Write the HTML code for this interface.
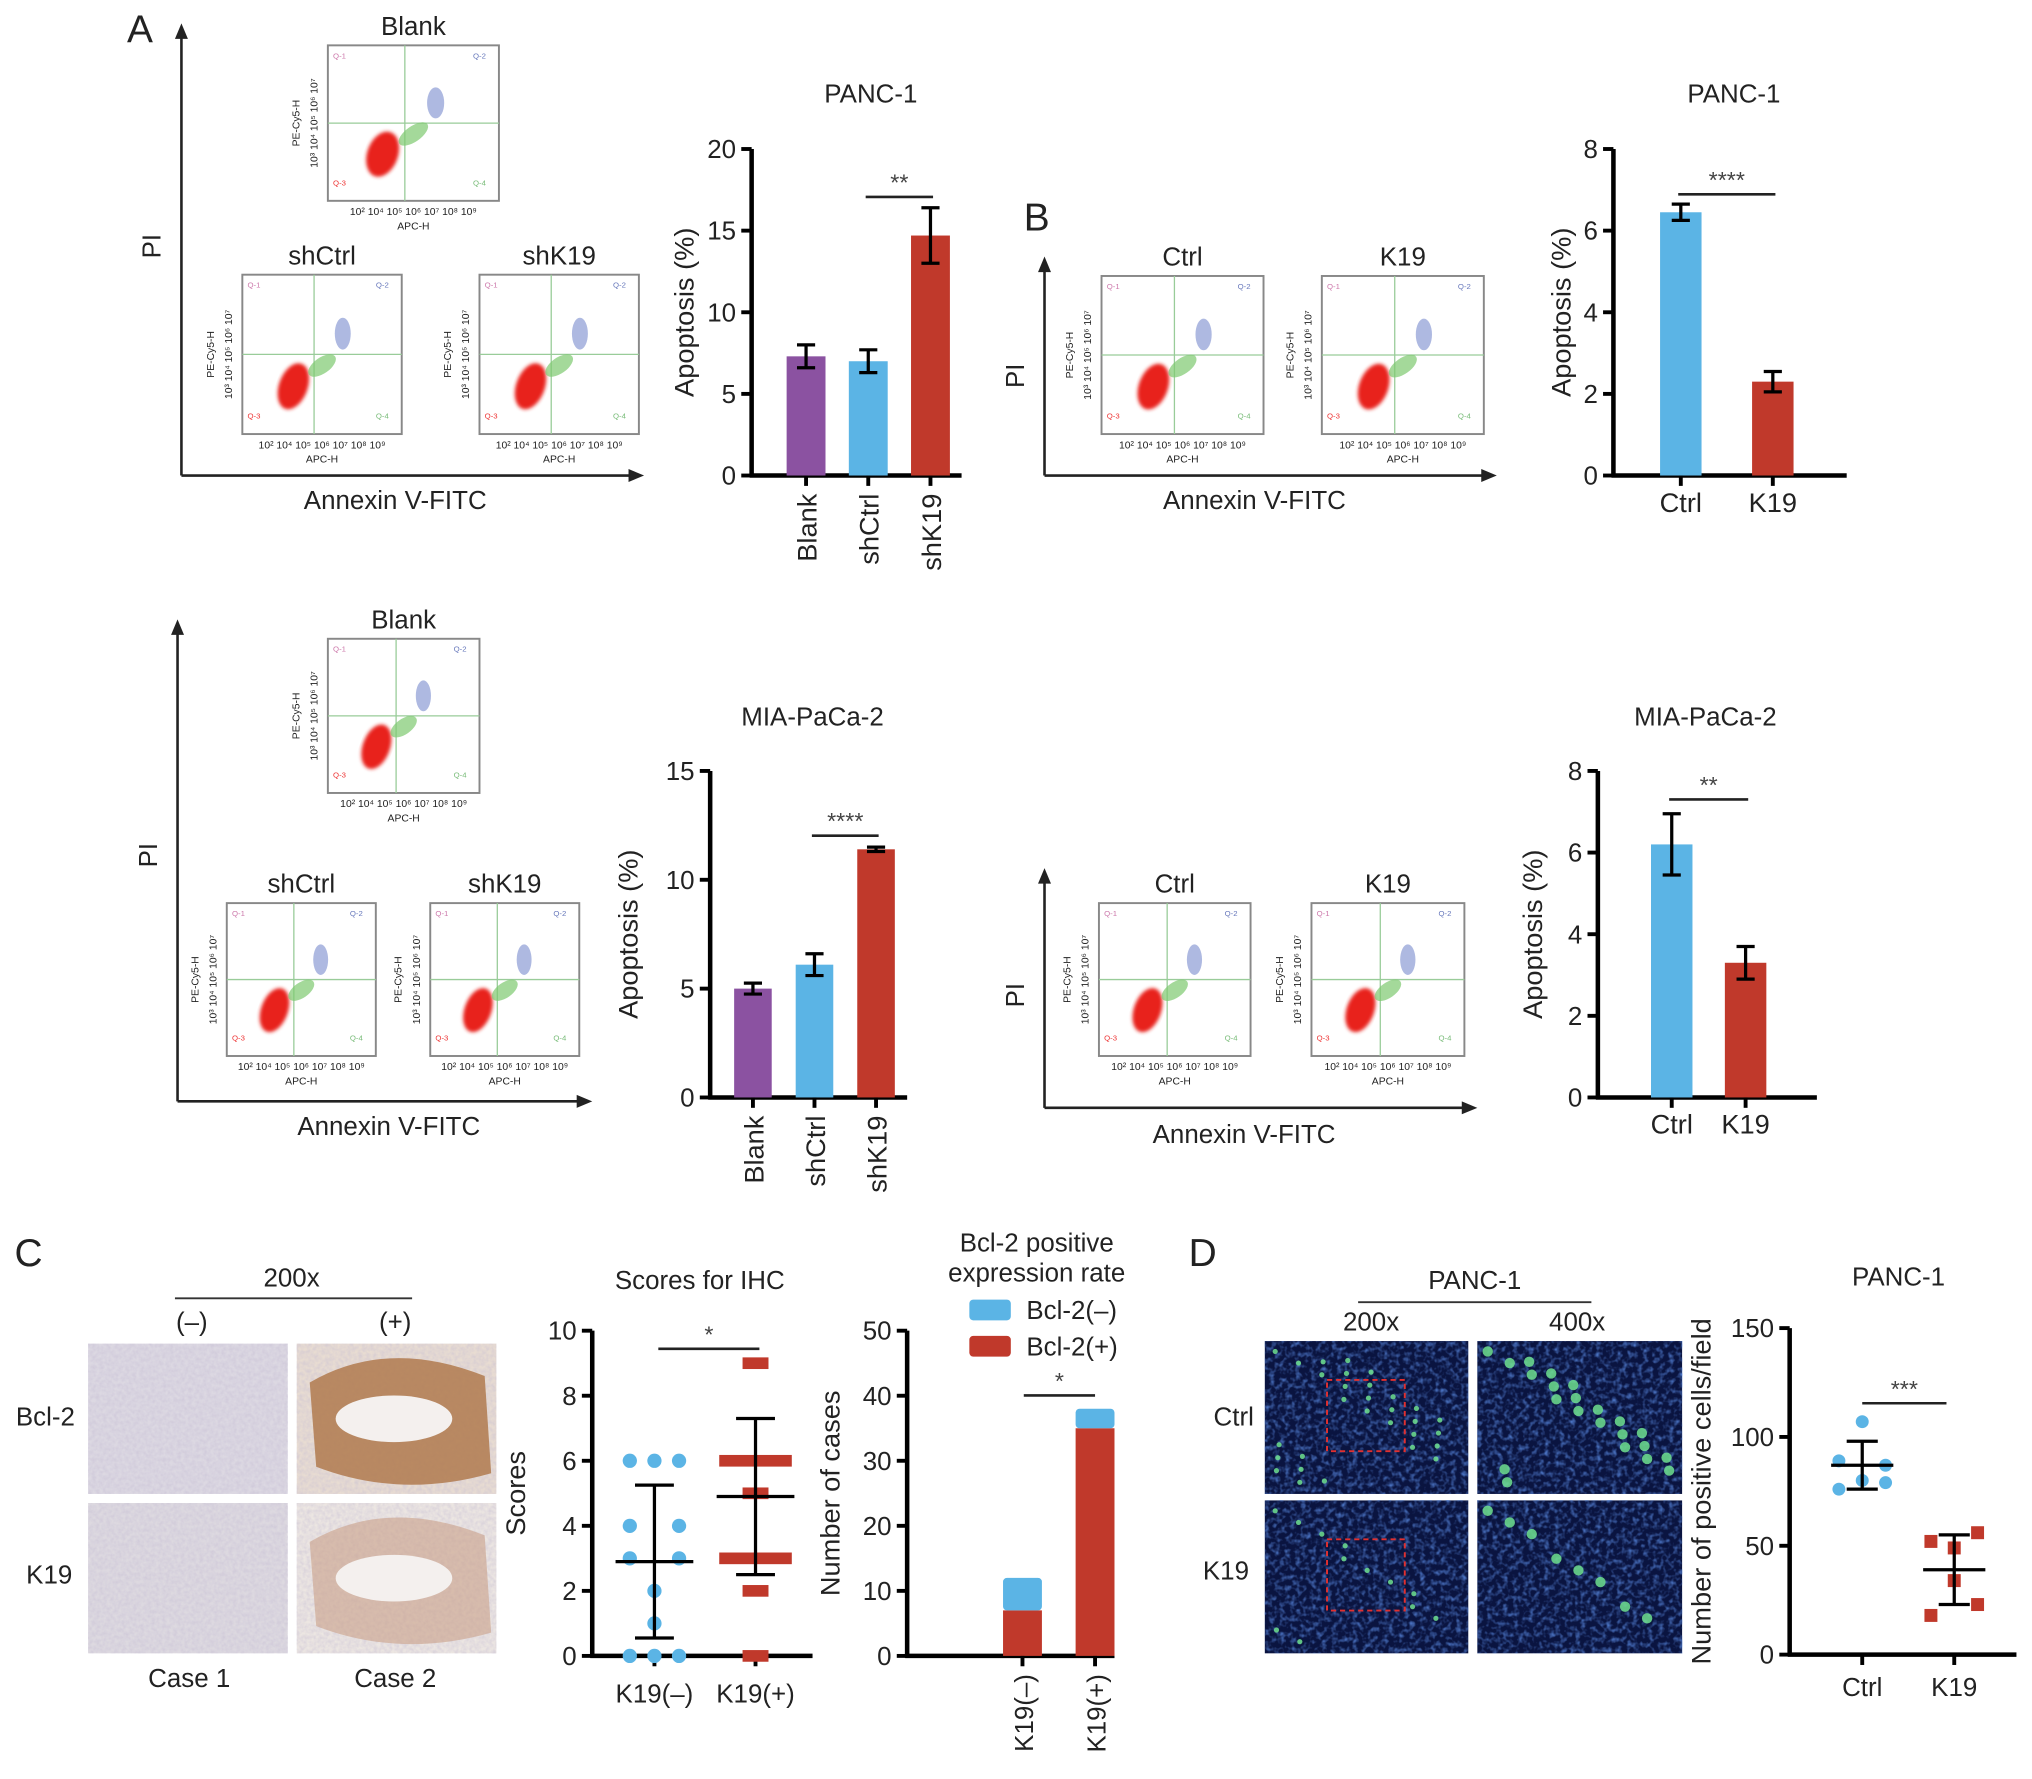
<!DOCTYPE html>
<html><head><meta charset="utf-8"><style>
html,body{margin:0;padding:0;background:#fff}
svg{display:block;font-family:"Liberation Sans",Arial,sans-serif}
</style></head><body>
<svg id="fig" width="2032" height="1779" viewBox="0 0 1568 1373" preserveAspectRatio="none" xmlns="http://www.w3.org/2000/svg">
<defs>
<filter id="ihcNoise" x="0" y="0" width="100%" height="100%"><feTurbulence type="fractalNoise" baseFrequency="0.35" numOctaves="2" seed="3"/><feColorMatrix type="matrix" values="0 0 0 0 0.55  0 0 0 0 0.5  0 0 0 0 0.65  0 0 0 -1.2 0.9"/></filter>
<filter id="flNoise" x="0" y="0" width="100%" height="100%"><feTurbulence type="fractalNoise" baseFrequency="0.25" numOctaves="2" seed="7"/><feColorMatrix type="matrix" values="0 0 0 0 0.1  0 0 0 0 0.25  0 0 0 0 0.75  0 0 0 -1.8 1.0"/></filter>
<filter id="blur1"><feGaussianBlur stdDeviation="1.5"/></filter>
</defs>
<g id="root"></g>
</svg>
<script>
// ---- data arrays ----
const panc1ShCats = ["Blank","shCtrl","shK19"];
const panc1ShVals = [7.3, 7.0, 14.7];
const panc1ShErrs = [0.7, 0.7, 1.7];
const panc1OeCats = ["Ctrl","K19"];
const panc1OeVals = [6.45, 2.3];
const panc1OeErrs = [0.2, 0.25];
const miaShCats = ["Blank","shCtrl","shK19"];
const miaShVals = [5.0, 6.1, 11.4];
const miaShErrs = [0.25, 0.5, 0.1];
const miaOeCats = ["Ctrl","K19"];
const miaOeVals = [6.2, 3.3];
const miaOeErrs = [0.75, 0.4];
const ticks20 = [0,5,10,15,20];
const ticks8 = [0,2,4,6,8];
const ticks15 = [0,5,10,15];
const ticks10 = [0,2,4,6,8,10];
const ticks50 = [0,10,20,30,40,50];
const ticks150 = [0,50,100,150];
const scoreCats = ["K19(–)","K19(+)"];
const scoresNeg = [6,6,6,4,4,3,3,2,1,0,0,0];
const scoresPos = [9,6,6,6,5,3,3,3,2,0];
const scoreMean = [2.9, 4.9];
const scoreSD = [2.35, 2.4];
const bclCats = ["K19(–)","K19(+)"];
const bclPos = [7, 35];
const bclNeg = [5, 3];
const dCats = ["Ctrl","K19"];
const dCtrl = [107,89,87,80,79,76];
const dK19 = [56,52,49,34,23,18];
const dMean = [87, 39];
const dSD = [11, 16];

const PURPLE="#8b52a1", BLUE="#5bb4e5", RED="#c0392b";
const NS="http://www.w3.org/2000/svg";
const root=document.getElementById('root');
function el(tag,attrs,parent){const e=document.createElementNS(NS,tag);for(const k in attrs)e.setAttribute(k,attrs[k]);(parent||root).appendChild(e);return e;}
function txt(x,y,s,size,opts){opts=opts||{};const t=el('text',{x:x,y:y,'font-size':size,'text-anchor':opts.anchor||'middle',fill:opts.fill||'#222'},opts.parent);if(opts.rot!==undefined)t.setAttribute('transform','rotate('+opts.rot+' '+x+' '+y+')');t.textContent=s;return t;}
function line(x1,y1,x2,y2,w,parent,col){return el('line',{x1:x1,y1:y1,x2:x2,y2:y2,stroke:col||'#000','stroke-width':w||3},parent);}

function axes(g,ax,yTop,yBot,xEnd,max,ticks,ylabel,ylx){
  const ys=v=>yBot-(v/max)*(yBot-yTop);
  line(ax,yTop,ax,yBot+1.5,3.5,g);
  line(ax-1.5,yBot,xEnd,yBot,3.5,g);
  ticks.forEach(t=>{line(ax-8,ys(t),ax,ys(t),3,g);txt(ax-12,ys(t)+7,String(t),20,{anchor:'end',parent:g});});
  txt(ylx,(yTop+yBot)/2,ylabel,21,{rot:-90,parent:g});
  return ys;
}
function sig(g,x1,x2,y,stars){line(x1,y,x2,y,2,g,'#222');txt((x1+x2)/2,y-5,stars,18,{parent:g,fill:'#444'});}

function barChart(name,o){
  const g=el('g',{});
  
  
  const ys=axes(g,o.ax,o.yTop,o.yBot,o.xEnd,o.max,o.ticks,'Apoptosis (%)',o.ylx);
  txt(o.titleX,o.titleY,o.title,20,{parent:g});
  o.cats.forEach((c,i)=>{
    const cx=o.ax+o.pad+i*o.step;
    const b=el('rect',{x:cx-o.bw/2,y:ys(o.vals[i]),width:o.bw,height:o.yBot-ys(o.vals[i]),fill:o.colors[i]},g);
    
    
    const top=ys(o.vals[i]+o.errs[i]),bot=ys(o.vals[i]-o.errs[i]);
    line(cx,top,cx,bot,2.5,g);line(cx-7,top,cx+7,top,2.5,g);line(cx-7,bot,cx+7,bot,2.5,g);
    line(cx,o.yBot,cx,o.yBot+8,3,g);
    if(o.rotLabels) txt(cx+8,o.yBot+14,c,21,{anchor:'end',rot:-90,parent:g});
    else txt(cx,o.yBot+28,c,21,{parent:g});
  });
  const a=o.ax+o.pad+o.sig[0]*o.step, b2=o.ax+o.pad+o.sig[1]*o.step;
  sig(g,a-2,b2+2,o.sigY,o.stars);
}

barChart('panc1-knockdown-chart',{ax:580,yTop:115,yBot:367,xEnd:742,max:20,ticks:ticks20,ylx:535,pad:42,step:48,bw:30,
  cats:panc1ShCats,vals:panc1ShVals,errs:panc1ShErrs,colors:[PURPLE,BLUE,RED],rotLabels:true,title:'PANC-1',titleX:672,titleY:79,sig:[1,2],sigY:152,stars:'**'});
barChart('panc1-overexpression-chart',{ax:1245,yTop:115,yBot:367,xEnd:1425,max:8,ticks:ticks8,ylx:1212,pad:52,step:71,bw:32,
  cats:panc1OeCats,vals:panc1OeVals,errs:panc1OeErrs,colors:[BLUE,RED],rotLabels:false,title:'PANC-1',titleX:1338,titleY:79,sig:[0,1],sigY:150,stars:'****'});
barChart('mia-knockdown-chart',{ax:548,yTop:595,yBot:847,xEnd:700,max:15,ticks:ticks15,ylx:492,pad:33,step:47.5,bw:29,
  cats:miaShCats,vals:miaShVals,errs:miaShErrs,colors:[PURPLE,BLUE,RED],rotLabels:true,title:'MIA-PaCa-2',titleX:627,titleY:560,sig:[1,2],sigY:645,stars:'****'});
barChart('mia-overexpression-chart',{ax:1233,yTop:595,yBot:847,xEnd:1402,max:8,ticks:ticks8,ylx:1190,pad:57,step:57,bw:32,
  cats:miaOeCats,vals:miaOeVals,errs:miaOeErrs,colors:[BLUE,RED],rotLabels:false,title:'MIA-PaCa-2',titleX:1316,titleY:560,sig:[0,1],sigY:617,stars:'**'});

// ---- flow plots (decorative images) ----
function flow(name,x,y,w,h,title){
  const g=el('g',{});
  
  
  if(title) txt(x+w/2,y-8,title,20,{parent:g});
  el('rect',{x:x,y:y,width:w,height:h,fill:'#fff',stroke:'#888','stroke-width':1.5},g);
  const qx=x+w*0.45,qy=y+h*0.5;
  line(qx,y,qx,y+h,1,g,'#9c9');line(x,qy,x+w,qy,1,g,'#9c9');
  el('ellipse',{cx:x+w*0.32,cy:y+h*0.7,rx:w*0.09,ry:h*0.15,fill:'#e8231b',transform:'rotate(20 '+(x+w*0.32)+' '+(y+h*0.7)+')',filter:'url(#blur1)'},g);
  el('ellipse',{cx:x+w*0.5,cy:y+h*0.57,rx:w*0.1,ry:h*0.05,fill:'#7ec96f',opacity:0.7,transform:'rotate(-35 '+(x+w*0.5)+' '+(y+h*0.57)+')'},g);
  el('ellipse',{cx:x+w*0.63,cy:y+h*0.37,rx:w*0.05,ry:h*0.1,fill:'#6b7fc9',opacity:0.55},g);
  [['Q-1',x+4,y+10,'#c7a'],['Q-2',x+w-20,y+10,'#67b'],['Q-3',x+4,y+h-12,'#e33'],['Q-4',x+w-20,y+h-12,'#7b7']].forEach(q=>txt(q[1],q[2],q[0],6,{anchor:'start',fill:q[3],parent:g}));
  txt(x+w/2,y+h+22,'APC-H',8,{parent:g});
  txt(x+w/2,y+h+11,'10²  10⁴ 10⁵ 10⁶ 10⁷ 10⁸ 10⁹',8,{parent:g});
  txt(x-22,y+h/2,'PE-Cy5-H',8,{rot:-90,parent:g});
  txt(x-8,y+h/2,'10³ 10⁴ 10⁵ 10⁶ 10⁷',8,{rot:-90,parent:g});
}
function arrowAxes(name,vx,vTop,hY,hEnd,piY,annX,annY){
  const g=el('g',{});
  
  
  line(vx,vTop+10,vx,hY,2,g,'#222');line(vx,hY,hEnd-10,hY,2,g,'#222');
  el('polygon',{points:(vx-5)+','+(vTop+12)+' '+(vx+5)+','+(vTop+12)+' '+vx+','+vTop,fill:'#222'},g);
  el('polygon',{points:(hEnd-12)+','+(hY-5)+' '+(hEnd-12)+','+(hY+5)+' '+hEnd+','+hY,fill:'#222'},g);
  txt(vx-16,piY,'PI',20,{rot:-90,parent:g});
  txt(annX,annY,'Annexin V-FITC',20,{parent:g});
}
arrowAxes('panc1-flow-axes-a',140,18,367,497,190,305,393);
flow('flow-blank-panc1',253,35,132,120,'Blank');
flow('flow-shctrl-panc1',187,212,123,123,'shCtrl');
flow('flow-shk19-panc1',370,212,123,123,'shK19');
arrowAxes('panc1-flow-axes-b',806,198,367,1155,290,968,393);
flow('flow-ctrl-panc1',850,213,125,122,'Ctrl');
flow('flow-k19-panc1',1020,213,125,122,'K19');
arrowAxes('mia-flow-axes-a',137,478,850,457,660,300,876);
flow('flow-blank-mia',253,493,117,119,'Blank');
flow('flow-shctrl-mia',175,697,115,118,'shCtrl');
flow('flow-shk19-mia',332,697,115,118,'shK19');
arrowAxes('mia-flow-axes-b',806,670,855,1140,768,960,882);
flow('flow-ctrl-mia',848,697,117,118,'Ctrl');
flow('flow-k19-mia',1012,697,118,118,'K19');

// panel letters
[['A',108,33],['B',800,178],['C',22,977],['D',928,977]].forEach(p=>{const t=txt(p[1],p[2],p[0],30,{parent:root});});

// ---- C: IHC images ----
(function(){
  const g=el('g',{});
  
  
  txt(225,993,'200x',20,{parent:g});line(135,1002,318,1002,1.5,g,'#333');
  txt(148,1027,'(–)',20,{parent:g});txt(305,1027,'(+)',20,{parent:g});
  [[68,1037,'#dcd8e2',false],[229,1037,'#e8dcd2',true],[68,1160,'#ddd9e0',false],[229,1160,'#ece6e2',true]].forEach((r,i)=>{
    el('rect',{x:r[0],y:r[1],width:154,height:116,fill:r[2]},g);
    el('rect',{x:r[0],y:r[1],width:154,height:116,filter:'url(#ihcNoise)',opacity:0.6},g);
    if(r[3]){
      const p=i===1?'#b07a4f':'#c9a088';
      el('path',{d:'M'+(r[0]+10)+','+(r[1]+30)+' Q'+(r[0]+70)+','+(r[1]-5)+' '+(r[0]+145)+','+(r[1]+25)+' L'+(r[0]+150)+','+(r[1]+100)+' Q'+(r[0]+80)+','+(r[1]+120)+' '+(r[0]+15)+','+(r[1]+95)+' Z',fill:p,opacity:i===1?0.85:0.6},g);
      el('ellipse',{cx:r[0]+75,cy:r[1]+58,rx:45,ry:18,fill:'#f4f0ee'},g);
    }
  });
  txt(35,1100,'Bcl-2',20,{parent:g});txt(38,1222,'K19',20,{parent:g});
  txt(146,1302,'Case 1',20,{parent:g});txt(305,1302,'Case 2',20,{parent:g});
})();

// ---- C: scores scatter ----
(function(){
  const g=el('g',{});
  
  
  const ax=457,yTop=1027,yBot=1278,pad=48,step=78;
  const ys=axes(g,ax,yTop,yBot,627,10,ticks10,'Scores',405);
  txt(540,995,'Scores for IHC',20,{parent:g});
  scoreCats.forEach((c,i)=>{const cx=ax+pad+i*step;line(cx,yBot,cx,yBot+8,3,g);txt(cx,yBot+36,c,20,{parent:g});});
  const cnt={};
  const c0=ax+pad;
  scoresNeg.forEach(v=>{cnt[v]=(cnt[v]||0)+1;});
  const seen={};
  scoresNeg.forEach(v=>{const k=seen[v]=(seen[v]||0)+1;const n=cnt[v];let off;
    if(n===1)off=0;else if(n===2)off=(k===1?-19:19);else off=(k-2)*19;
    const d=el('circle',{cx:c0+off,cy:ys(v),r:5.5,fill:BLUE},g);});
  const c1=ax+pad+step;const cnt2={};
  scoresPos.forEach(v=>{cnt2[v]=(cnt2[v]||0)+1;});
  Object.keys(cnt2).forEach(k=>{const v=+k,n=cnt2[k];const w=n>=3?56:20;
    const r=el('rect',{x:c1-w/2,y:ys(v)-4.5,width:w,height:9,fill:RED},g);});
  [0,1].forEach(i=>{const cx=ax+pad+i*step;const m=ys(scoreMean[i]),t=ys(scoreMean[i]+scoreSD[i]),b=ys(scoreMean[i]-scoreSD[i]);
    line(cx,t,cx,b,2.5,g);line(cx-15,t,cx+15,t,2.5,g);line(cx-15,b,cx+15,b,2.5,g);line(cx-30,m,cx+30,m,2.5,g);});
  sig(g,508,586,1041,'*');
})();

// ---- C: stacked bars ----
(function(){
  const g=el('g',{});
  
  
  const ax=700,yTop=1027,yBot=1278,pad=89,step=56,bw=30;
  const ys=axes(g,ax,yTop,yBot,860,50,ticks50,'Number of cases',648);
  txt(800,966,'Bcl-2 positive',20,{parent:g});txt(800,989,'expression rate',20,{parent:g});
  el('rect',{x:748,y:1003,width:32,height:16,fill:BLUE,rx:3},g);txt(792,1018,'Bcl-2(–)',20,{anchor:'start',parent:g});
  el('rect',{x:748,y:1031,width:32,height:16,fill:RED,rx:3},g);txt(792,1046,'Bcl-2(+)',20,{anchor:'start',parent:g});
  bclCats.forEach((c,i)=>{const cx=ax+pad+i*step;
    const r1=el('rect',{x:cx-bw/2,y:ys(bclPos[i]),width:bw,height:yBot-ys(bclPos[i]),fill:RED},g);
    
    const r2=el('rect',{x:cx-bw/2,y:ys(bclPos[i]+bclNeg[i]),width:bw,height:ys(bclPos[i])-ys(bclPos[i]+bclNeg[i]),fill:BLUE,rx:3},g);
    
    line(cx,yBot,cx,yBot+8,3,g);txt(cx+8,yBot+14,c,20,{anchor:'end',rot:-90,parent:g});});
  sig(g,790,845,1077,'*');
})();

// ---- D: fluorescence images ----
(function(){
  const g=el('g',{});
  
  
  txt(1138,995,'PANC-1',20,{parent:g});line(1048,1005,1228,1005,1.5,g,'#333');
  txt(1058,1027,'200x',20,{parent:g});txt(1217,1027,'400x',20,{parent:g});
  [[976,1035,157],[1140,1035,158],[976,1158,157],[1140,1158,158]].forEach((r,i)=>{
    el('rect',{x:r[0],y:r[1],width:r[2],height:118,fill:'#0a1440'},g);
    el('rect',{x:r[0],y:r[1],width:r[2],height:118,filter:'url(#flNoise)'},g);
    const n=i===1?22:(i===0?30:(i===3?8:12));
    for(let k=0;k<n;k++){const px=r[0]+8+((k*53)%(r[2]-16)),py=r[1]+8+((k*37)%102);
      el('circle',{cx:px,cy:py,r:(i%2?4:2),fill:'#6fe08f',opacity:0.85},g);}
    if(i%2===0) el('rect',{x:r[0]+48,y:r[1]+30,width:60,height:55,fill:'none',stroke:'#e03030','stroke-width':1.5,'stroke-dasharray':'4 3'},g);
  });
  txt(952,1100,'Ctrl',20,{parent:g});txt(946,1219,'K19',20,{parent:g});
})();

// ---- D: scatter ----
(function(){
  const g=el('g',{});
  
  
  const ax=1381,yTop=1025,yBot=1277,pad=56,step=71;
  const ys=axes(g,ax,yTop,yBot,1556,150,ticks150,'Number of positive cells/field',1320);
  txt(1465,992,'PANC-1',20,{parent:g});
  dCats.forEach((c,i)=>{const cx=ax+pad+i*step;line(cx,yBot,cx,yBot+8,3,g);txt(cx,yBot+32,c,20,{parent:g});});
  const offs=[0,-18,18,0,18,-18];
  dCtrl.forEach((v,k)=>{const d=el('circle',{cx:ax+pad+offs[k],cy:ys(v),r:5,fill:BLUE},g);});
  const offs2=[18,-18,0,0,18,-18];
  dK19.forEach((v,k)=>{const cx=ax+pad+step+offs2[k];const d=el('rect',{x:cx-5,y:ys(v)-5,width:10,height:10,fill:RED},g);});
  [0,1].forEach(i=>{const cx=ax+pad+i*step;const m=ys(dMean[i]),t=ys(dMean[i]+dSD[i]),b=ys(dMean[i]-dSD[i]);
    line(cx,t,cx,b,2.5,g);line(cx-12,t,cx+12,t,2.5,g);line(cx-12,b,cx+12,b,2.5,g);line(cx-24,m,cx+24,m,2.5,g);});
  sig(g,1437,1502,1083,'***');
})();
</script>
</body></html>
